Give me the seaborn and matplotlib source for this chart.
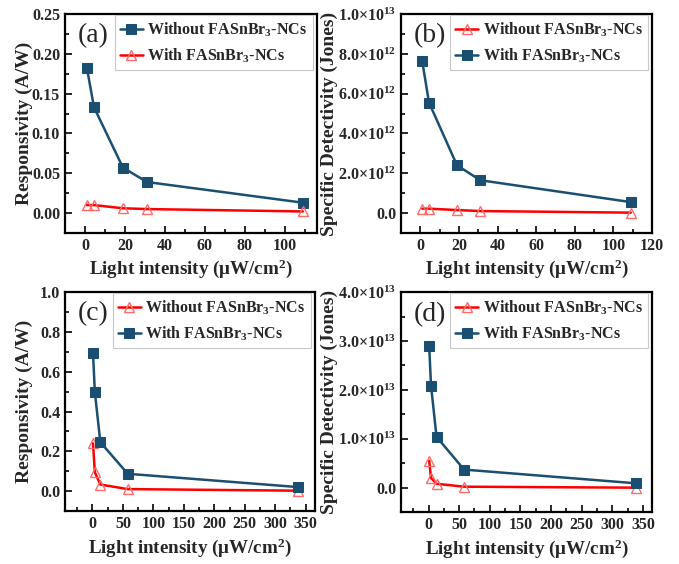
import numpy as np
import pandas as pd
import matplotlib
matplotlib.use("Agg")
import matplotlib.pyplot as plt
from matplotlib.ticker import AutoMinorLocator, FixedLocator, FuncFormatter
import seaborn as sns

# ---- data ----
x_ab = [1, 4.5, 19, 31, 109]
resp_without_a = [0.182, 0.133, 0.057, 0.039, 0.013]
resp_with_a = [0.010, 0.010, 0.006, 0.005, 0.002]
det_without_b = [0.22e12, 0.22e12, 0.15e12, 0.10e12, 0.02e12]
det_with_b = [7.62e12, 5.55e12, 2.40e12, 1.65e12, 0.55e12]

x_cd = [1, 4, 13, 58, 338]
resp_without_c = [0.240, 0.095, 0.033, 0.010, 0.002]
resp_with_c = [0.693, 0.498, 0.246, 0.087, 0.020]
det_without_d = [0.55e13, 0.20e13, 0.08e13, 0.02e13, 0.00e13]
det_with_d = [2.90e13, 2.09e13, 1.04e13, 0.37e13, 0.09e13]

NAVY = "#1b4f72"
RED = "#ff0000"

sns.set_theme(style="ticks")
plt.rcParams["font.family"] = ["Liberation Serif", "DejaVu Serif"]
plt.rcParams["font.weight"] = "bold"
plt.rcParams["mathtext.fontset"] = "custom"
plt.rcParams["mathtext.rm"] = "Liberation Serif:bold"
plt.rcParams["mathtext.bf"] = "Liberation Serif:bold"
plt.rcParams["mathtext.it"] = "Liberation Serif:bold"
plt.rcParams["mathtext.default"] = "bf"
plt.rcParams["axes.linewidth"] = 1.6

fig = plt.figure(figsize=(6.79, 5.64), dpi=100)
axes = {
    "a": fig.add_axes([0.0957, 0.587, 0.371, 0.388]),
    "b": fig.add_axes([0.5906, 0.587, 0.3697, 0.388]),
    "c": fig.add_axes([0.0957, 0.094, 0.368, 0.388]),
    "d": fig.add_axes([0.5906, 0.092, 0.3697, 0.390]),
}

XLABEL = r"Light intensity ($\mu$W/cm$^{2}$)"
LEG_WITHOUT = r"Without FASnBr$_{3}$-NCs"
LEG_WITH = r"With FASnBr$_{3}$-NCs"


def draw_square(ax, x, y, label):
    sns.lineplot(x=x, y=y, ax=ax, color=NAVY, marker="s", markersize=6.5,
                 markeredgecolor=NAVY, linewidth=1.8, label=label)


def draw_triangle(ax, x, y, label):
    sns.lineplot(x=x, y=y, ax=ax, color=RED, marker="^", markersize=7.5,
                 markerfacecolor="none", markeredgecolor="#ff6a6a",
                 markeredgewidth=1.0, linewidth=1.8, label=label)


def sci_fmt(v, pos):
    if v == 0:
        return r"0.0"
    exp = int(np.floor(np.log10(abs(v)) + 1e-9))
    mant = v / 10 ** exp
    return r"$%.1f{\times}10^{%d}$" % (mant, exp)


def style(ax, tag, xlim, xmajor, ylim, ymajor, ylabel, ylabel_x, sci=False):
    ax.set_xlim(*xlim)
    ax.set_ylim(*ylim)
    ax.xaxis.set_major_locator(FixedLocator(xmajor))
    ax.yaxis.set_major_locator(FixedLocator(ymajor))
    ax.xaxis.set_minor_locator(AutoMinorLocator(2))
    ax.yaxis.set_minor_locator(AutoMinorLocator(2))
    ax.tick_params(which="both", direction="in", top=False, right=False,
                   labelsize=11.5, width=1.4)
    ax.tick_params(which="major", length=5)
    ax.tick_params(which="minor", length=3)
    for lab in ax.get_xticklabels() + ax.get_yticklabels():
        lab.set_fontweight("bold")
    if sci:
        ax.yaxis.set_major_formatter(FuncFormatter(sci_fmt))
    ax.set_xlabel(XLABEL, fontsize=13.7, fontweight="bold", labelpad=3)
    ax.set_ylabel(ylabel, fontsize=14, fontweight="bold")
    # right edge of the rotated label sits at ylabel_x (axes coords)
    ax.yaxis.set_label_coords(ylabel_x, 0.5)
    for sp in ax.spines.values():
        sp.set_color("black")
        sp.set_linewidth(1.6)
    ax.text(0.05, 0.9, f"({tag})", transform=ax.transAxes, fontsize=20,
            fontweight="normal", va="center", ha="left")
    leg = ax.legend(loc="upper right", bbox_to_anchor=(0.985, 0.995),
                    borderaxespad=0, frameon=True, fancybox=False,
                    edgecolor="#c8c8c8", framealpha=1, handlelength=1.4,
                    handletextpad=0.3, borderpad=0.35, labelspacing=0.45,
                    prop={"weight": "bold", "size": 11.5})
    leg.get_frame().set_linewidth(0.8)


ax = axes["a"]
draw_square(ax, x_ab, resp_without_a, LEG_WITHOUT)
draw_triangle(ax, x_ab, resp_with_a, LEG_WITH)
style(ax, "a", (-10, 116), [0, 20, 40, 60, 80, 100], (-0.025, 0.25),
      [0.0, 0.05, 0.10, 0.15, 0.20, 0.25], "Responsivity (A/W)", -0.127)
ax.yaxis.set_major_formatter(FuncFormatter(lambda v, p: f"{v:.2f}"))

ax = axes["b"]
draw_triangle(ax, x_ab, det_without_b, LEG_WITHOUT)
draw_square(ax, x_ab, det_with_b, LEG_WITH)
style(ax, "b", (-10, 120), [0, 20, 40, 60, 80, 100, 120], (-1e12, 1e13),
      [0, 2e12, 4e12, 6e12, 8e12, 1e13], "Specific Detectivity (Jones)", -0.251,
      sci=True)

ax = axes["c"]
draw_triangle(ax, x_cd, resp_without_c, LEG_WITHOUT)
draw_square(ax, x_cd, resp_with_c, LEG_WITH)
style(ax, "c", (-45, 365), [0, 50, 100, 150, 200, 250, 300, 350], (-0.1, 1.0),
      [0.0, 0.2, 0.4, 0.6, 0.8, 1.0], "Responsivity (A/W)", -0.127)
ax.yaxis.set_major_formatter(FuncFormatter(lambda v, p: f"{v:.1f}"))

ax = axes["d"]
draw_triangle(ax, x_cd, det_without_d, LEG_WITHOUT)
draw_square(ax, x_cd, det_with_d, LEG_WITH)
style(ax, "d", (-45, 365), [0, 50, 100, 150, 200, 250, 300, 350], (-0.5e13, 4e13),
      [0, 1e13, 2e13, 3e13, 4e13], "Specific Detectivity (Jones)", -0.251, sci=True)

fig.savefig("out.png", dpi=100)
